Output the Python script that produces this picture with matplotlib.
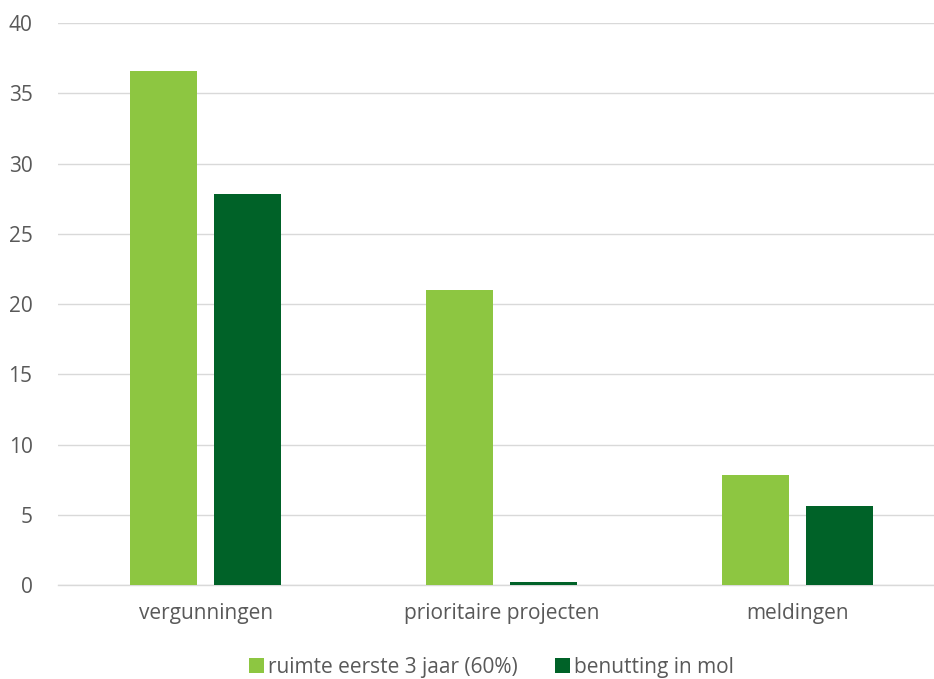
import numpy as np
import matplotlib.pyplot as plt

categories = ['vergunningen', 'prioritaire projecten', 'meldingen']
ruimte = [36.6, 21.0, 7.8]
benutting = [27.8, 0.2, 5.6]
series_names = ['ruimte eerste 3 jaar (60%)', 'benutting in mol']
colors = ['#8dc641', '#006228']

plt.rcParams['font.family'] = ['Open Sans', 'DejaVu Sans']
grey = '#595959'

fig = plt.figure(figsize=(9.34, 6.79), dpi=100)
ax = fig.add_axes([0.0616, 0.1384, 0.951, 0.8277])

x = np.arange(len(categories))
w = 0.226
gap = 0.057
ax.bar(x - (w + gap) / 2, ruimte, w, color=colors[0], label=series_names[0], zorder=3)
ax.bar(x + (w + gap) / 2, benutting, w, color=colors[1], label=series_names[1], zorder=3)

ax.set_xlim(-0.5, 2.5)
ax.set_ylim(0, 40)
ax.set_yticks(range(0, 41, 5))
ax.set_xticks(x)
ax.set_xticklabels(categories)
ax.yaxis.grid(True, color='#d9d9d9', linewidth=1.0, zorder=0)
ax.set_axisbelow(True)
for s in ['top', 'right', 'left']:
    ax.spines[s].set_visible(False)
ax.spines['bottom'].set_color('#d9d9d9')
ax.spines['bottom'].set_linewidth(1.0)
ax.tick_params(axis='both', length=0, labelsize=15, colors=grey)
ax.tick_params(axis='x', pad=13)
ax.tick_params(axis='y', pad=18)

fig.legend(loc='center', bbox_to_anchor=(0.526, 0.017), ncol=2, frameon=False,
           fontsize=15, labelcolor=grey, handlelength=0.7, handleheight=0.7,
           handletextpad=0.2, columnspacing=1.8)

fig.savefig('out.png', dpi=100)
